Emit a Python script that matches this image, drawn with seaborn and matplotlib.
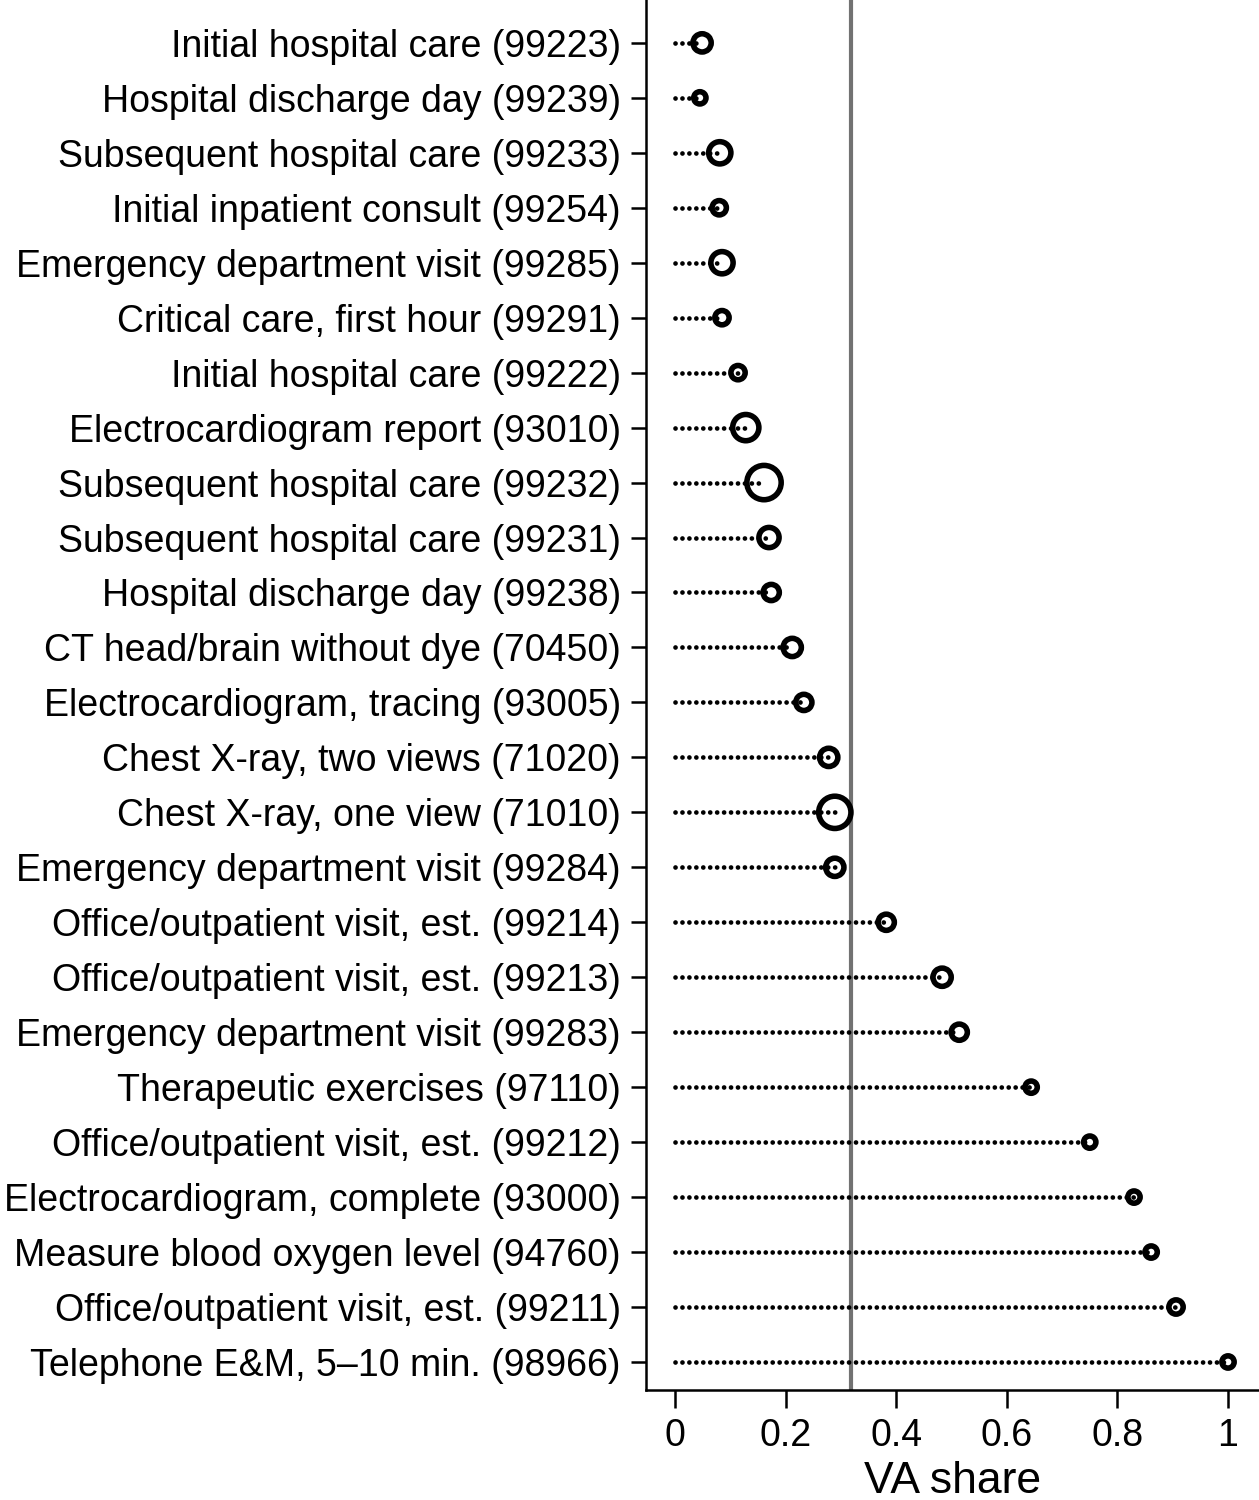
import matplotlib
matplotlib.use("Agg")
import matplotlib.pyplot as plt
import seaborn as sns
import pandas as pd

procedures = [
    "Initial hospital care (99223)",
    "Hospital discharge day (99239)",
    "Subsequent hospital care (99233)",
    "Initial inpatient consult (99254)",
    "Emergency department visit (99285)",
    "Critical care, first hour (99291)",
    "Initial hospital care (99222)",
    "Electrocardiogram report (93010)",
    "Subsequent hospital care (99232)",
    "Subsequent hospital care (99231)",
    "Hospital discharge day (99238)",
    "CT head/brain without dye (70450)",
    "Electrocardiogram, tracing (93005)",
    "Chest X-ray, two views (71020)",
    "Chest X-ray, one view (71010)",
    "Emergency department visit (99284)",
    "Office/outpatient visit, est. (99214)",
    "Office/outpatient visit, est. (99213)",
    "Emergency department visit (99283)",
    "Therapeutic exercises (97110)",
    "Office/outpatient visit, est. (99212)",
    "Electrocardiogram, complete (93000)",
    "Measure blood oxygen level (94760)",
    "Office/outpatient visit, est. (99211)",
    "Telephone E&M, 5\u201310 min. (98966)",
]
va_share = [0.049, 0.045, 0.081, 0.080, 0.085, 0.085, 0.114, 0.128, 0.161,
            0.170, 0.174, 0.212, 0.233, 0.278, 0.289, 0.289, 0.382, 0.483,
            0.514, 0.644, 0.750, 0.830, 0.861, 0.906, 1.000]
volume = [77, 33, 116, 46, 116, 46, 46, 163, 281, 95, 60, 77, 60, 77, 248,
          77, 60, 77, 60, 33, 33, 33, 33, 46, 33]
overall_share = 0.318
x_ticks = [0, 0.2, 0.4, 0.6, 0.8, 1]
x_tick_labels = ["0", "0.2", "0.4", "0.6", "0.8", "1"]

df = pd.DataFrame({"procedure": procedures, "share": va_share, "volume": volume})

sns.set_theme(style="ticks")
plt.rcParams["font.family"] = ["Liberation Sans", "DejaVu Sans"]
plt.rcParams["text.color"] = "black"
plt.rcParams["axes.labelcolor"] = "black"

fig = plt.figure(figsize=(12.59, 15.0), dpi=100)
ax = fig.add_axes([646 / 1259, 110 / 1500, 1 - 646 / 1259, 1390 / 1500])

ax.hlines(df["procedure"], 0, df["share"], colors="black", linewidth=3.4,
          linestyles=(0, (0.01, 1.46)), capstyle="round", zorder=2)
ax.axvline(overall_share, color="#727272", linewidth=3.0, zorder=1)
sns.scatterplot(data=df, x="share", y="procedure", size="volume",
                sizes=(78, 610), size_norm=(33, 281), legend=False,
                facecolor="none", edgecolor="black", linewidth=4.0,
                ax=ax, zorder=3)

ax.set_xlim(-0.0524, 1.056)
ax.set_ylim(24.51, -0.78)
ax.set_xticks(x_ticks)
ax.set_xticklabels(x_tick_labels)
ax.set_xlabel("VA share", fontsize=32, labelpad=5, color="black")
ax.set_ylabel("")
ax.tick_params(axis="y", labelsize=27, length=11, width=1.8,
               colors="black", pad=7)
ax.tick_params(axis="x", labelsize=27, length=13, width=1.8,
               colors="black", pad=7)
for s in ["left", "bottom"]:
    ax.spines[s].set_linewidth(1.8)
    ax.spines[s].set_color("black")
sns.despine(ax=ax)

fig.savefig("out.png", dpi=100)
